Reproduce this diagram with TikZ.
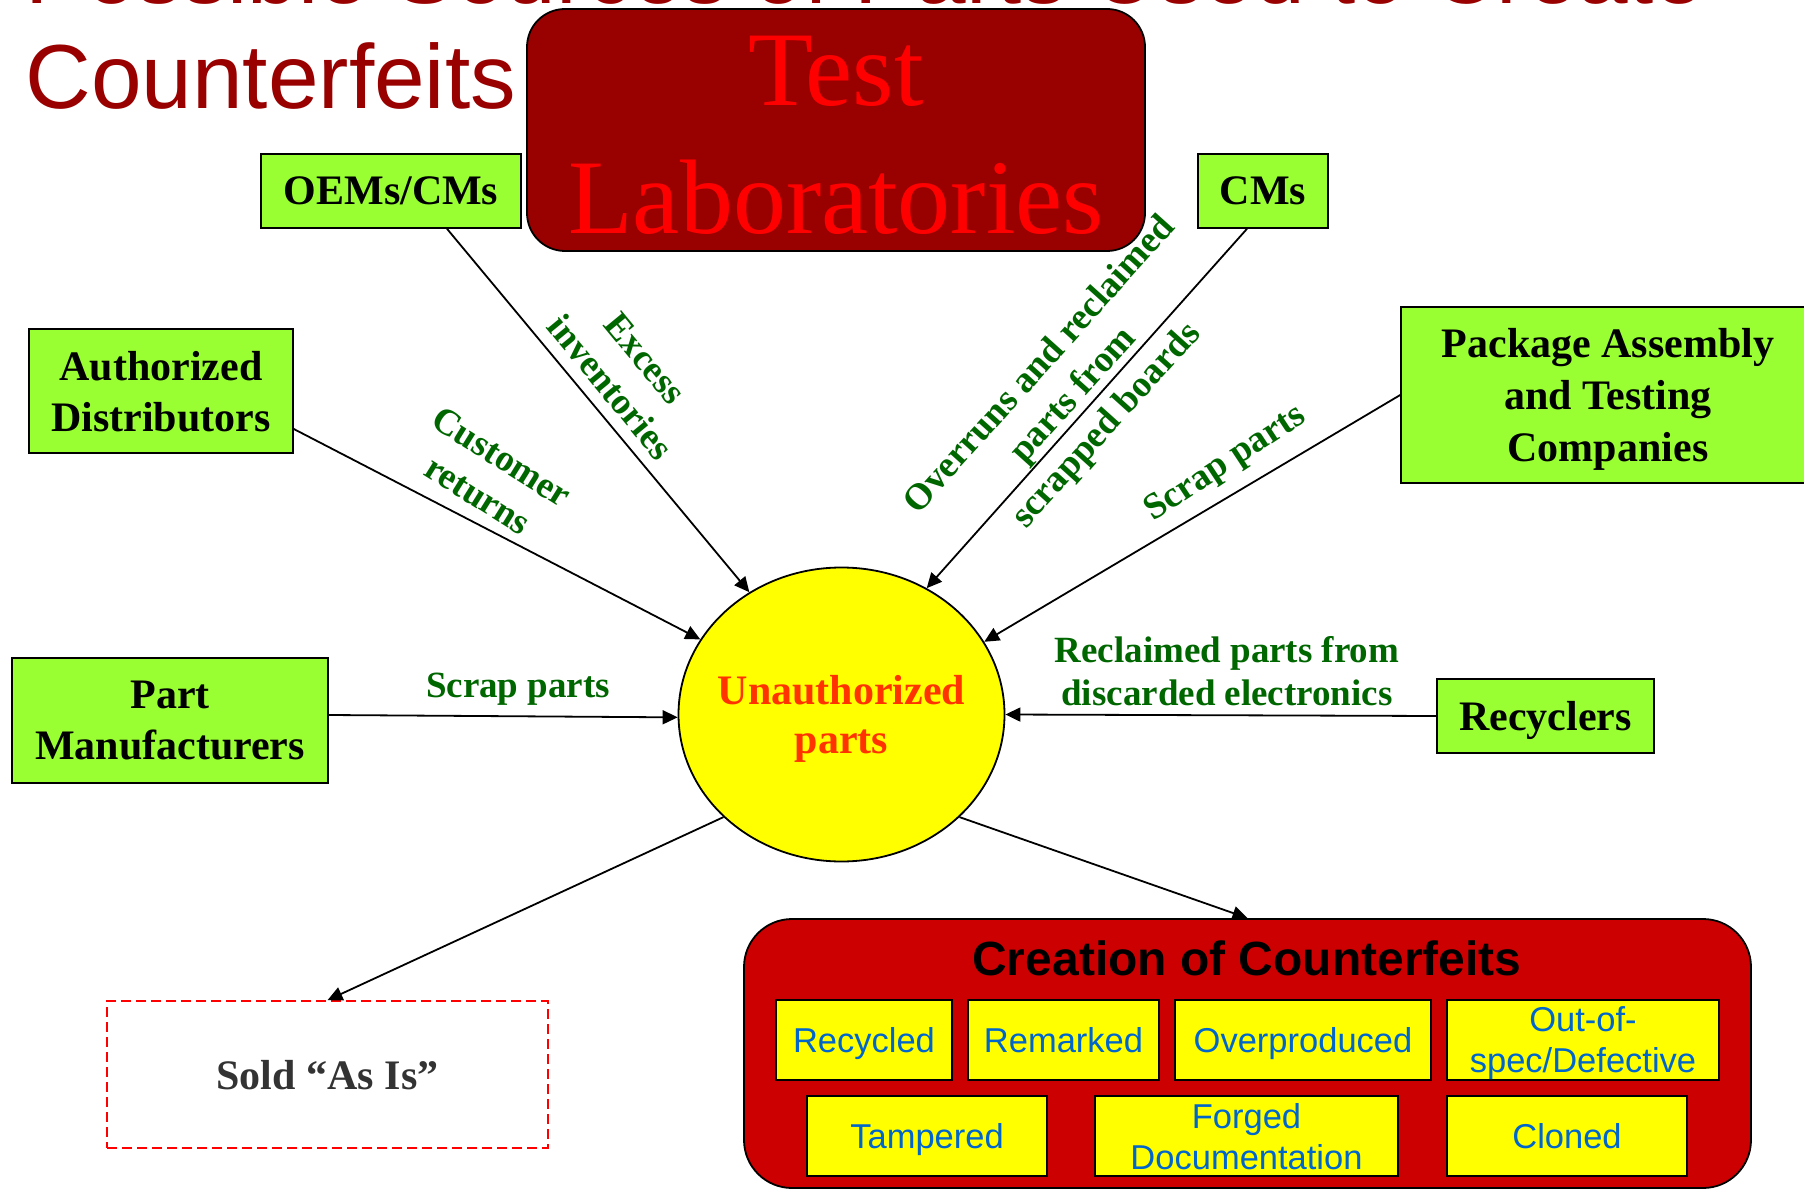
\documentclass[tikz,border=0pt]{standalone}
\usepackage{fontspec}
\setmainfont{Liberation Serif}
\newfontfamily\arialfont{Liberation Sans}
\usetikzlibrary{arrows.meta,shapes.geometric}
\definecolor{titlered}{HTML}{990000}
\definecolor{labred}{HTML}{FF0000}
\definecolor{boxgreen}{HTML}{99FF33}
\definecolor{lblgreen}{HTML}{006600}
\definecolor{ellyellow}{HTML}{FFFF00}
\definecolor{elltext}{HTML}{FF3300}
\definecolor{creared}{HTML}{CC0000}
\definecolor{itemblue}{HTML}{0066CC}
\definecolor{soldgray}{HTML}{333333}
\begin{document}
\begin{tikzpicture}[x=0.5pt,y=-0.5pt,
  greenbox/.style={draw=black, line width=0.8pt, fill=boxgreen, inner sep=0pt, align=center, text depth=0pt,
    font=\fontsize{21}{25.5}\selectfont\bfseries},
  lbl/.style={text=lblgreen, inner sep=0pt, align=center, font=\fontsize{18.5}{22.5}\selectfont\bfseries},
  item/.style={draw=black, line width=0.9pt, fill=ellyellow, inner sep=0pt, align=center, minimum height=40pt,
    text depth=0pt, text=itemblue, font=\arialfont\fontsize{17.25}{20.5}\selectfont},
  conn/.style={line width=0.9pt, -{Triangle[length=7.5pt,width=7pt]}},
  titletext/.style={anchor=base west, inner sep=0pt, text=titlered, font=\arialfont\fontsize{45.5}{52}\selectfont}
]
\useasboundingbox (0,0) rectangle (1804,1192);
\clip (0,0) rectangle (1804,1192);
\fill[white] (0,0) rectangle (1804,1192);

% title
\node[titletext] (title1) at (25,4) {Possible Sources of Parts Used to Create};
\node[titletext] (title2) at (25,109) {Counterfeits};

% test laboratories
\node[draw=black, line width=0.9pt, fill=titlered, rounded corners=19pt, minimum width=309pt, minimum height=121pt,
  inner sep=0pt, text=labred, align=center, text height=104pt, text depth=0pt,
  font=\fontsize{53}{64}\selectfont] (testlab) at (836,130) {Test\\Laboratories};

% sources
\node[greenbox, minimum width=130pt, minimum height=37pt] (oem) at (391,191) {OEMs/CMs};
\node[greenbox, minimum width=65pt, minimum height=37pt] (cms) at (1263,191) {CMs};
\node[greenbox, minimum width=132pt, minimum height=62pt] (auth) at (161,391) {Authorized\\Distributors};
\node[greenbox, minimum width=158pt, minimum height=62.5pt, font=\fontsize{21}{25.5}\selectfont\bfseries] (partm) at (170,720.5) {Part\\Manufacturers};
\node[greenbox, minimum width=207pt, minimum height=88pt, font=\fontsize{21}{26}\selectfont\bfseries] (pkg) at (1608,395) {Package Assembly\\and Testing\\Companies};
\node[greenbox, minimum width=108.5pt, minimum height=37pt] (recy) at (1545.5,716) {Recyclers};

% center
\node[ellipse, draw=black, line width=0.9pt, fill=ellyellow, minimum width=163pt, minimum height=147pt,
  inner xsep=-10pt, inner ysep=0pt, text depth=0pt, text=elltext, align=center,
  font=\fontsize{21}{24.5}\selectfont\bfseries] (ell) at (841.5,714.5) {Unauthorized\\parts};

% creation of counterfeits
\node[draw=black, line width=0.9pt, fill=creared, rounded corners=24pt, minimum width=503.5pt, minimum height=134.5pt,
  inner sep=0pt] (crea) at (1247.5,1053.5) {};
\node[anchor=base, inner sep=0pt, font=\arialfont\fontsize{24}{28}\selectfont\bfseries] (creatitle) at (1247,975) {Creation of Counterfeits};
\node[item, minimum width=88pt] (recycled) at (864,1040) {Recycled};
\node[item, minimum width=95.5pt] (remarked) at (1063.5,1040) {Remarked};
\node[item, minimum width=128pt] (overprod) at (1303,1040) {Overproduced};
\node[item, minimum width=136pt] (outspec) at (1583,1040) {Out-of-\\spec/Defective};
\node[item, minimum width=120pt] (tampered) at (927,1136) {Tampered};
\node[item, minimum width=151.5pt] (forged) at (1246.5,1136) {Forged\\Documentation};
\node[item, minimum width=120pt] (cloned) at (1567,1136) {Cloned};

% sold as is
\node[draw=labred, dash pattern=on 5pt off 2.5pt, line width=0.8pt, minimum width=220.5pt, minimum height=73.5pt,
  inner sep=0pt, text depth=0pt, text=soldgray, font=\fontsize{21}{25}\selectfont\bfseries] (sold) at (327.5,1074.5) {Sold “As Is”};

% connectors
\draw[conn] ([xshift=28pt]oem.south) -- (ell.127.6);
\draw[conn] ([yshift=-19pt]auth.east) -- (ell.152.2);
\draw[conn] ([yshift=2.75pt]partm.east) -- (ell.181);
\draw[conn] ([xshift=-8pt]cms.south) -- (ell.56.1);
\draw[conn] (pkg.west) -- (ell.27.6);
\draw[conn] (recy.west) -- (ell.0);
\draw[conn] (ell.-41.6) -- (crea.north);
\draw[conn] (ell.221.9) -- (sold.north);

% labels
\node[lbl, rotate=-32] (lcust) at (490,476) {Customer\\returns};
\node[lbl, rotate=-50.5] (lexcess) at (628,373) {Excess\\inventories};
\node[lbl, rotate=48] (lover) at (1074,396) {Overruns and reclaimed\\parts from\\scrapped boards};
\node[lbl, rotate=33.4] (lscrapr) at (1226,464) {Scrap parts};
\node[lbl, anchor=base] (lscrapl) at (518,697) {Scrap parts};
\node[lbl, text depth=0pt, font=\fontsize{18.5}{21.5}\selectfont\bfseries] (lrecl) at (1227,671) {Reclaimed parts from\\discarded electronics};
\end{tikzpicture}
\end{document}
